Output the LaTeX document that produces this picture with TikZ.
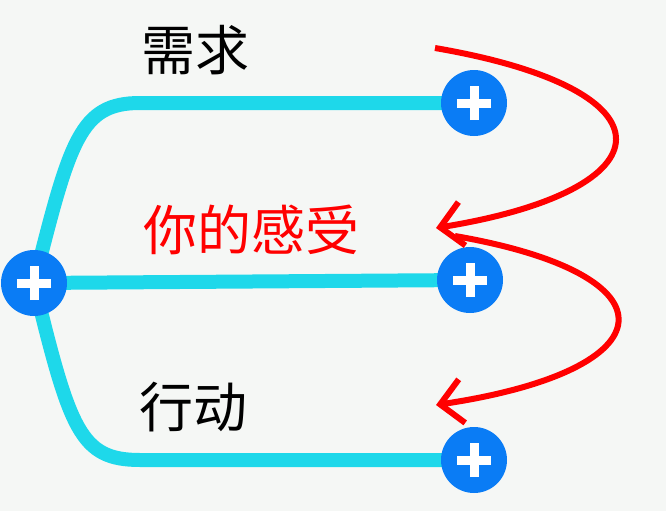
\documentclass[tikz,border=0pt]{standalone}
\usepackage{fontspec}
\newfontfamily\cjk{Noto Sans CJK SC}
\usetikzlibrary{arrows.meta}
\definecolor{bg}{HTML}{F5F7F5}
\definecolor{cy}{HTML}{1ED8EA}
\definecolor{bl}{HTML}{0A7CF5}
\begin{document}
\begin{tikzpicture}[x=1pt,y=-1pt,
  plus/.style={circle,fill=bl,minimum size=66pt,inner sep=0pt,
    path picture={\draw[white,line width=9pt] ([xshift=-17pt]path picture bounding box.center)--([xshift=17pt]path picture bounding box.center);
    \draw[white,line width=9pt] ([yshift=-17pt]path picture bounding box.center)--([yshift=17pt]path picture bounding box.center);}},
  lbl/.style={font=\cjk\fontsize{54}{54}\selectfont,inner sep=0pt},
  link/.style={cy,line width=14pt},
  redarr/.style={red,line width=6pt,-{Straight Barb[length=22pt,width=44pt,line width=6pt]}}]
\fill[bg] (0,0) rectangle (666,511);
\useasboundingbox (0,0) rectangle (666,511);
\coordinate (r) at (34,283);
\coordinate (a) at (474,103);
\coordinate (b) at (470,280);
\coordinate (c) at (474,460);
\draw[link] (r) .. controls (70,140) and (80,103) .. (140,103) -- (a);
\draw[link] (r) -- (b);
\draw[link] (r) .. controls (70,430) and (80,460) .. (140,460) -- (c);
\node[plus] (nr) at (r) {};
\node[plus] (na) at (a) {};
\node[plus] (nb) at (b) {};
\node[plus] (nc) at (c) {};
\node[lbl] (t1) at (195,50) {需求};
\node[lbl,red] (t2) at (251,230) {你的感受};
\node[lbl] (t3) at (193,407) {行动};
\coordinate (s1) at (435,48);
\coordinate (e1) at (436,228);
\coordinate (s2) at (455,236);
\coordinate (e2) at (436,405);
\draw[redarr] (s1) .. controls (680,90) and (670,190) .. (e1);
\draw[redarr] (s2) .. controls (680,275) and (670,370) .. (e2);
\end{tikzpicture}
\end{document}
